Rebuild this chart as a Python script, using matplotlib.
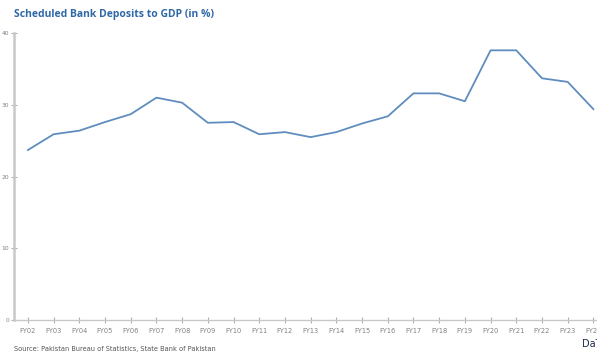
import matplotlib.pyplot as plt

years = ['FY02', 'FY03', 'FY04', 'FY05', 'FY06', 'FY07', 'FY08', 'FY09', 'FY10',
         'FY11', 'FY12', 'FY13', 'FY14', 'FY15', 'FY16', 'FY17', 'FY18', 'FY19',
         'FY20', 'FY21', 'FY22', 'FY23', 'FY24']
deposits_gdp = [23.7, 25.9, 26.4, 27.6, 28.7, 31.0, 30.3, 27.5, 27.6,
                25.9, 26.2, 25.5, 26.2, 27.4, 28.4, 31.6, 31.6, 30.5,
                37.6, 37.6, 33.7, 33.2, 29.4]
y_ticks = [0, 10, 20, 30, 40]

fig = plt.figure(figsize=(5.97, 3.56), dpi=100)
ax = fig.add_axes([0.0235, 0.101, 0.9765, 0.806])

x = list(range(len(years)))
ax.plot(x, deposits_gdp, color='#5f8dbf', linewidth=1.3)

ax.set_xlim(-0.54, 22.14)
ax.set_ylim(0, 40)
ax.set_xticks(x)
ax.set_xticklabels(years)
ax.set_yticks(y_ticks)

for side in ['top', 'right']:
    ax.spines[side].set_visible(False)
ax.spines['left'].set_color('#c8c8c8')
ax.spines['left'].set_linewidth(1.8)
ax.spines['bottom'].set_color('#c8c8c8')
ax.spines['bottom'].set_linewidth(1.0)

ax.tick_params(axis='x', direction='inout', length=5, width=0.8, color='#b0b0b0',
               labelsize=4.8, labelcolor='#808080', pad=3)
ax.tick_params(axis='y', direction='inout', length=5, width=0.8, color='#b0b0b0',
               labelsize=4.3, labelcolor='#808080', pad=1)

fig.text(0.0235, 0.96, 'Scheduled Bank Deposits to GDP (in %)', fontsize=7.5,
         fontweight='bold', color='#2f68a6', family='Open Sans', va='center')
fig.text(0.0235, 0.02, 'Source: Pakistan Bureau of Statistics, State Bank of Pakistan',
         fontsize=4.75, color='#555555', va='center')
fig.text(0.975, 0.035, 'DaT', fontsize=7, color='#1f2d4a', va='center')

fig.savefig('out.png', dpi=100)
